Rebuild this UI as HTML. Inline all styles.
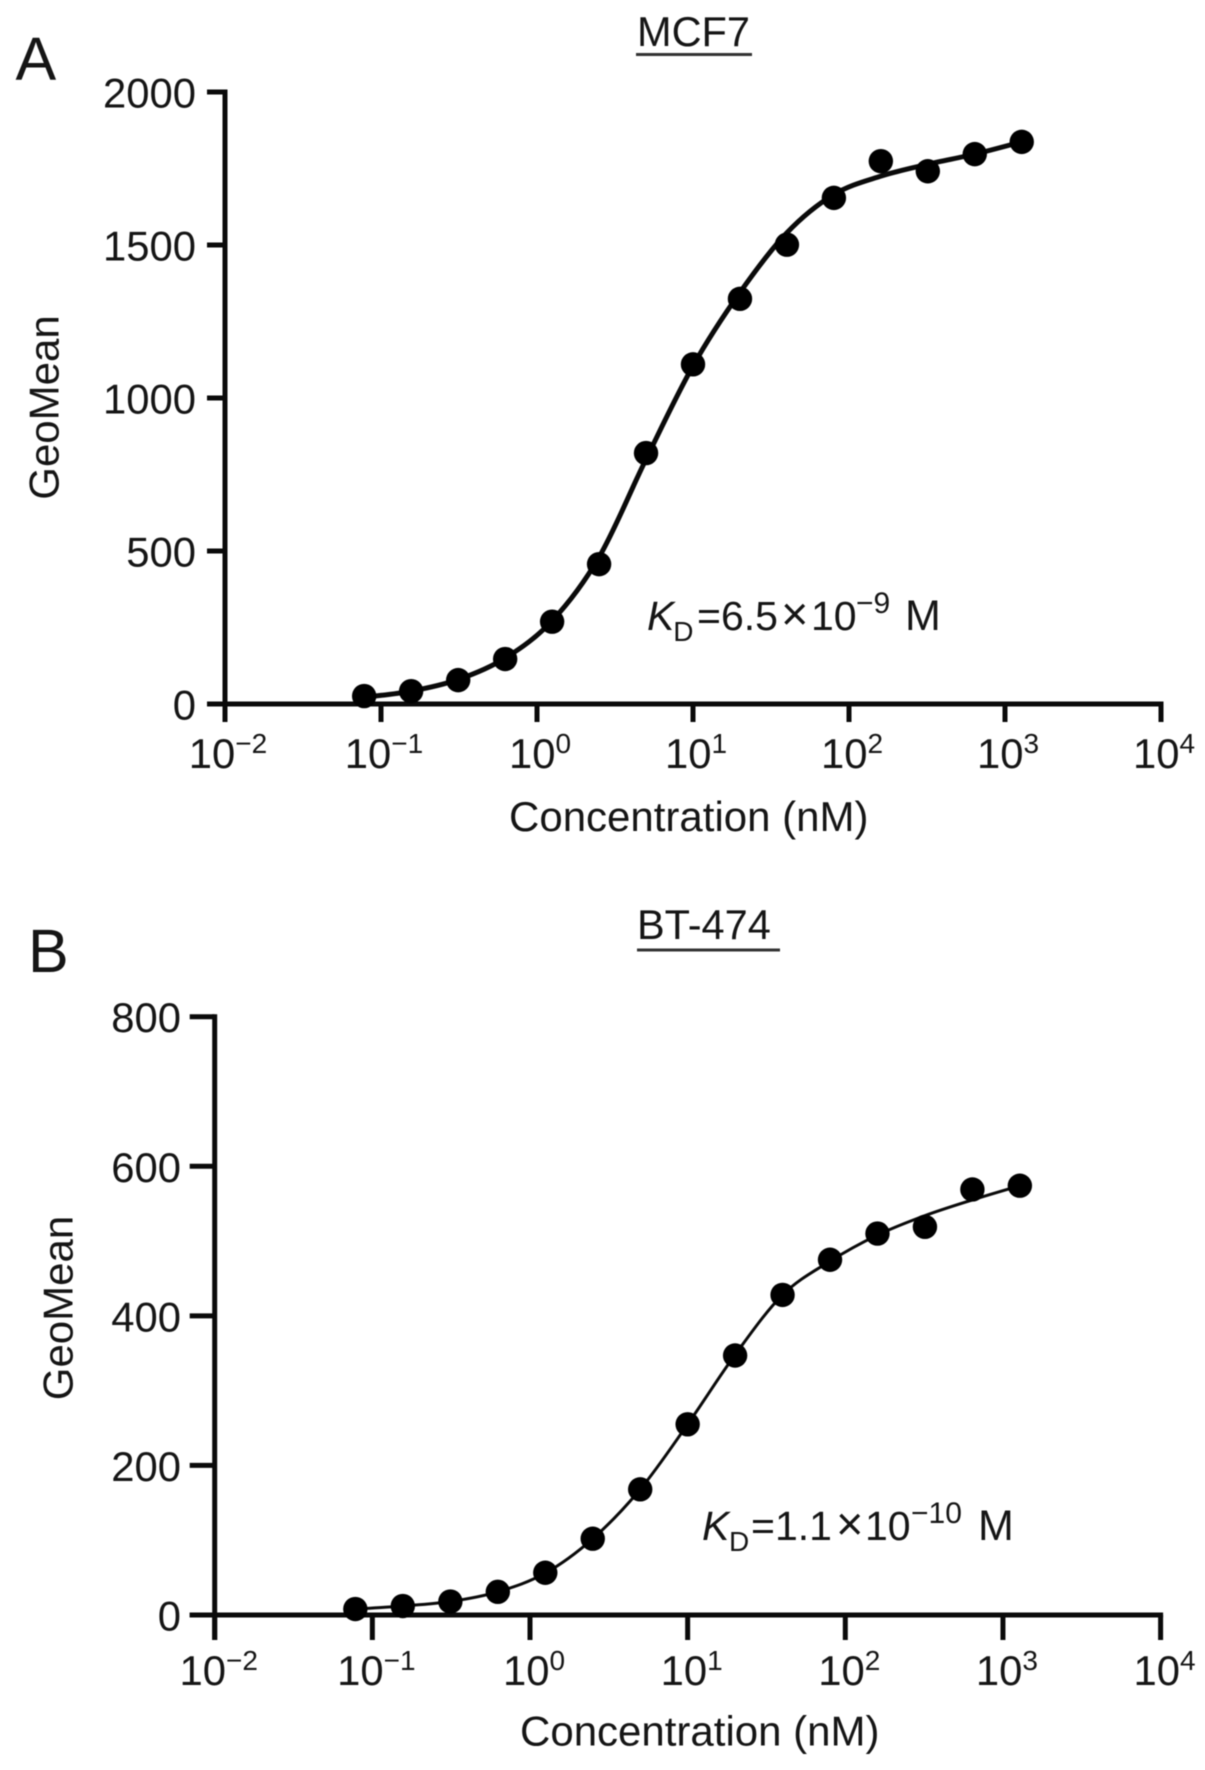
<!DOCTYPE html>
<html lang="en">
<head>
<meta charset="utf-8">
<title>GeoMean binding curves: MCF7 and BT-474</title>
<style>
html,body{margin:0;padding:0;background:#fff;width:1205px;height:1770px;overflow:hidden}
svg{display:block;filter:blur(0.5px)}
text{font-family:"Liberation Sans",Arial,sans-serif;fill:#151515}
</style>
</head>
<body>
<svg id="figure" width="1205" height="1770" viewBox="0 0 1205 1770" xmlns="http://www.w3.org/2000/svg">
  <rect width="1205" height="1770" fill="#ffffff"/>

  <text x="15.5" y="80" font-size="61">A</text>
  <text x="637" y="46" font-size="41.5">MCF7</text>
  <rect x="636" y="53" width="116" height="3" fill="#333"/>
  <text transform="translate(58.5 407.5) rotate(-90)" text-anchor="middle" font-size="42">GeoMean</text>
  <text x="509" y="831" font-size="42">Concentration (nM)</text>
  <text y="630" font-size="41">
    <tspan x="647" font-style="italic">K</tspan><tspan x="673.3" y="641" font-size="28">D</tspan><tspan x="697" y="630">=6.5</tspan><tspan x="781" font-size="47">×</tspan><tspan x="811">10</tspan><tspan x="856" y="613" font-size="30">−9</tspan><tspan x="905" y="630" font-size="43">M</tspan>
  </text>
  <g id="panel-a"></g>

  <text x="28" y="972" font-size="61">B</text>
  <text x="637" y="939" font-size="41.5">BT-474</text>
  <rect x="637" y="948.5" width="143" height="3" fill="#333"/>
  <text transform="translate(72.5 1308) rotate(-90)" text-anchor="middle" font-size="42">GeoMean</text>
  <text x="520" y="1745.5" font-size="42">Concentration (nM)</text>
  <text y="1540" font-size="41">
    <tspan x="702" font-style="italic">K</tspan><tspan x="729" y="1551" font-size="28">D</tspan><tspan x="751" y="1540">=1.1</tspan><tspan x="836" font-size="47">×</tspan><tspan x="865">10</tspan><tspan x="911" y="1523" font-size="30">−10</tspan><tspan x="978" y="1540" font-size="43">M</tspan>
  </text>
  <g id="panel-b"></g>
</svg>

<script>
// Shared categories and tick labels
const concentrations = [0.078, 0.156, 0.3125, 0.625, 1.25, 2.5, 5, 10, 20, 40, 80, 160, 320, 640, 1280];
const xTickExponents = [-2, -1, 0, 1, 2, 3, 4];

// Panel A: MCF7
const mcf7Points = [26, 42, 78, 147, 269, 457, 820, 1110, 1324, 1501, 1654, 1774, 1741, 1797, 1837];
const mcf7Fit = [22, 42, 80, 150, 272, 480, 800, 1105, 1345, 1540, 1665, 1725, 1764, 1797, 1837];
const mcf7YTicks = [0, 500, 1000, 1500, 2000];

// Panel B: BT-474
const bt474Points = [8, 12, 18, 31, 56.5, 102, 168, 255, 347, 428, 475, 510, 519, 569, 574];
const bt474Fit = [8, 12, 18, 31, 56, 102, 168, 255, 348, 428, 473, 508, 534, 555, 574];
const bt474YTicks = [0, 200, 400, 600, 800];

const SVG_NS = 'http://www.w3.org/2000/svg';

function make(tag, attrs, parent) {
  const el = document.createElementNS(SVG_NS, tag);
  for (const k in attrs) el.setAttribute(k, attrs[k]);
  parent.appendChild(el);
  return el;
}

function splinePath(pts) {
  let d = 'M' + pts[0][0].toFixed(2) + ' ' + pts[0][1].toFixed(2);
  for (let i = 0; i < pts.length - 1; i++) {
    const p0 = pts[Math.max(i - 1, 0)], p1 = pts[i], p2 = pts[i + 1], p3 = pts[Math.min(i + 2, pts.length - 1)];
    const c1x = p1[0] + (p2[0] - p0[0]) / 6, c1y = p1[1] + (p2[1] - p0[1]) / 6;
    const c2x = p2[0] - (p3[0] - p1[0]) / 6, c2y = p2[1] - (p3[1] - p1[1]) / 6;
    d += 'C' + c1x.toFixed(2) + ' ' + c1y.toFixed(2) + ' ' + c2x.toFixed(2) + ' ' + c2y.toFixed(2) + ' ' + p2[0].toFixed(2) + ' ' + p2[1].toFixed(2);
  }
  return d;
}

function drawPanel(root, cfg, points, fit, yTicks) {
  const yMax = yTicks[yTicks.length - 1];
  const xPos = v => cfg.left + (Math.log10(v) + 2) * (cfg.right - cfg.left) / 6;
  const yPos = v => cfg.bottom - (v / yMax) * (cfg.bottom - cfg.top);
  const axisColor = '#0a0a0a';

  yTicks.forEach(function (t) {
    const tick = make('line', {x1: cfg.left - cfg.tick, x2: cfg.left, y1: yPos(t), y2: yPos(t), stroke: axisColor, 'stroke-width': 5}, root);
    
    
    const label = make('text', {x: cfg.yLabelRight, y: yPos(t) + 15.5, 'text-anchor': 'end', 'font-size': 41.8}, root);
    label.textContent = String(t);
    
    
  });

  xTickExponents.forEach(function (e) {
    const x = xPos(Math.pow(10, e));
    const tick = make('line', {x1: x, x2: x, y1: cfg.bottom, y2: cfg.bottom + cfg.tick, stroke: axisColor, 'stroke-width': 5}, root);
    
    
    const label = make('text', {x: x + cfg.xLabelShift, y: cfg.xLabelBase, 'text-anchor': 'middle', 'font-size': 41.8}, root);
    
    
    const base = make('tspan', {}, label);
    base.textContent = '10';
    const sup = make('tspan', {dy: -15, 'font-size': 28}, label);
    sup.textContent = String(e).replace('-', '\u2212');
  });

  const yAxis = make('line', {x1: cfg.left, x2: cfg.left, y1: cfg.top - 2.5, y2: cfg.bottom + cfg.tick, stroke: axisColor, 'stroke-width': 5}, root);
  
  
  const xAxis = make('line', {x1: cfg.left - cfg.tick, x2: cfg.right + 2.5, y1: cfg.bottom, y2: cfg.bottom, stroke: axisColor, 'stroke-width': 5}, root);
  
  

  const curve = make('path', {d: splinePath(concentrations.map((c, i) => [xPos(c), yPos(fit[i])])), fill: 'none', stroke: '#0a0a0a', 'stroke-width': cfg.lineWidth, 'stroke-linecap': 'round'}, root);
  
  

  concentrations.forEach(function (c, i) {
    const dot = make('circle', {cx: xPos(c), cy: yPos(points[i]), r: 12.2, fill: '#000'}, root);
    
    
  });
}

drawPanel(document.getElementById('panel-a'),
  {left: 225, right: 1161, top: 92, bottom: 704, tick: 18, yLabelRight: 196, xLabelBase: 768, xLabelShift: 3, lineWidth: 5},
  mcf7Points, mcf7Fit, mcf7YTicks);
drawPanel(document.getElementById('panel-b'),
  {left: 214.7, right: 1160.6, top: 1016.7, bottom: 1615, tick: 25, yLabelRight: 181, xLabelBase: 1685, xLabelShift: 4, lineWidth: 3},
  bt474Points, bt474Fit, bt474YTicks);
</script>
</body>
</html>
